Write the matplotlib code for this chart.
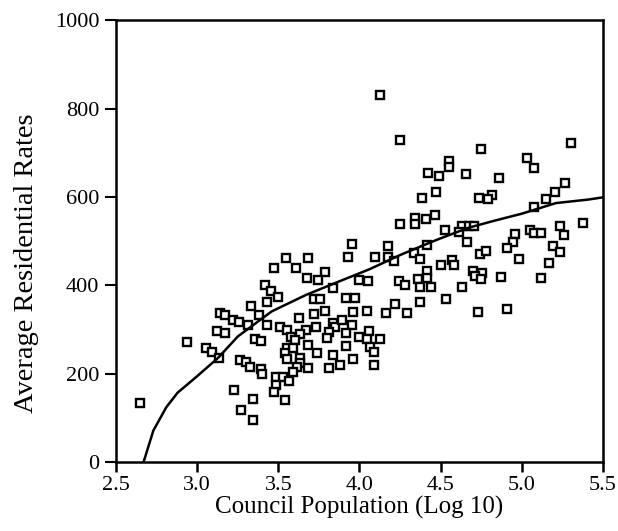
import matplotlib
matplotlib.use("Agg")
import matplotlib.pyplot as plt
import numpy as np

# scatter points: log10 council population vs rate
pop_log = [
    3.952, 3.548, 3.685, 3.930, 3.475, 3.607, 3.790, 3.675, 4.125, 4.251,
    4.751, 4.551, 4.551, 4.424, 4.492, 4.656, 4.860, 4.817, 4.739, 4.794,
    4.387, 4.469, 4.341, 4.341, 4.409, 4.467, 4.247, 4.527, 4.631, 4.673,
    4.706, 4.615, 4.665, 4.177, 4.418, 4.093, 4.177, 4.212, 4.338, 4.372,
    4.745, 4.782, 4.500, 4.570, 4.582, 4.418, 4.699, 4.757, 4.714, 4.360,
    4.418, 5.301, 5.031, 5.076, 5.264, 5.204, 5.146, 5.072, 5.235, 5.377,
    5.261, 5.048, 5.072, 5.119, 4.957, 4.944, 4.909, 5.190, 5.235, 4.980,
    5.165, 4.873, 5.119, 3.138, 3.171, 3.218, 3.259, 3.123, 3.171, 2.938,
    3.054, 3.091, 3.136, 3.262, 3.227, 2.646, 3.743, 3.418, 3.452, 3.838,
    3.998, 4.054, 3.498, 3.428, 3.333, 3.722, 3.755, 3.915, 3.973, 3.790,
    3.718, 3.625, 3.381, 3.963, 4.046, 3.313, 3.428, 3.508, 3.556, 3.730,
    3.835, 3.848, 3.893, 3.951, 3.673, 3.636, 3.810, 3.914, 4.056, 3.578,
    3.603, 3.798, 3.998, 4.049, 3.356, 3.393, 3.685, 3.914, 3.556, 3.588,
    4.062, 3.543, 3.739, 3.835, 3.556, 3.636, 3.636, 3.961, 3.298, 3.323,
    3.615, 3.681, 3.810, 3.881, 3.393, 3.401, 3.588, 3.483, 3.531, 3.566,
    3.483, 3.473, 3.344, 3.543, 3.272, 3.341, 4.747, 4.245, 4.278, 4.370,
    4.440, 4.630, 4.535, 4.220, 4.370, 4.162, 4.292, 4.733, 4.125, 4.091,
    4.091, 4.907,
]
res_rates = [
    494, 461, 461, 464, 439, 439, 431, 417, 830, 728,
    709, 682, 668, 655, 647, 651, 642, 604, 597, 595,
    598, 610, 552, 539, 551, 560, 539, 525, 534, 534,
    534, 521, 499, 489, 492, 464, 464, 455, 473, 459,
    470, 478, 446, 458, 445, 433, 433, 428, 422, 415,
    417, 721, 687, 666, 631, 611, 595, 578, 535, 542,
    514, 524, 518, 518, 515, 498, 485, 488, 476, 460,
    451, 419, 416, 337, 333, 321, 316, 296, 291, 271,
    258, 249, 236, 231, 163, 133, 411, 401, 386, 393,
    411, 409, 373, 362, 353, 369, 369, 372, 372, 342,
    335, 326, 332, 339, 341, 310, 311, 306, 298, 306,
    315, 306, 321, 309, 298, 289, 294, 292, 296, 282,
    276, 280, 284, 279, 279, 273, 264, 262, 259, 259,
    261, 247, 246, 241, 234, 235, 225, 234, 226, 214,
    214, 213, 213, 220, 211, 200, 204, 193, 193, 184,
    175, 158, 142, 141, 117, 95, 415, 409, 401, 395,
    395, 395, 370, 358, 362, 337, 337, 339, 279, 249,
    220, 347,
]

# fitted curve
fit_x = [2.67, 2.73, 2.81, 2.88, 2.99, 3.13, 3.25, 3.46, 3.67, 3.87,
         4.06, 4.26, 4.47, 4.67, 4.83, 5.00, 5.21, 5.41, 5.50]
fit_y = [0, 71, 124, 157, 191, 236, 284, 341, 378, 408,
         436, 470, 502, 530, 546, 562, 586, 594, 599]

x_ticks = [2.5, 3.0, 3.5, 4.0, 4.5, 5.0, 5.5]
y_ticks = [0, 200, 400, 600, 800, 1000]

plt.rcParams['font.family'] = ['Liberation Serif', 'DejaVu Serif']

fig = plt.figure(figsize=(6.18, 5.31), dpi=100)
ax = fig.add_axes([0.1877, 0.130, 0.788, 0.832])

ax.plot(pop_log, res_rates, linestyle='none', marker='s', markersize=5.4,
        markerfacecolor='white', markeredgecolor='black', markeredgewidth=1.7)
ax.plot(fit_x, fit_y, color='black', linewidth=1.8)

ax.set_xlim(2.5, 5.5)
ax.set_ylim(0, 1000)
ax.set_xticks(x_ticks)
ax.set_xticklabels(['%.1f' % t for t in x_ticks])
ax.set_yticks(y_ticks)
ax.set_yticklabels([str(t) for t in y_ticks])

for side in ax.spines.values():
    side.set_linewidth(1.8)

ax.tick_params(axis='x', direction='out', length=7, width=1.8,
               labelsize=16, pad=3)
ax.tick_params(axis='y', direction='out', length=8, width=1.5,
               labelsize=16, pad=4)

ax.set_xlabel('Council Population (Log 10)', fontsize=18, labelpad=1)
ax.set_ylabel('Average Residential Rates', fontsize=20.5)
ax.yaxis.set_label_coords(-0.158, 0.45)

fig.savefig('out.png', dpi=100, facecolor='white')
